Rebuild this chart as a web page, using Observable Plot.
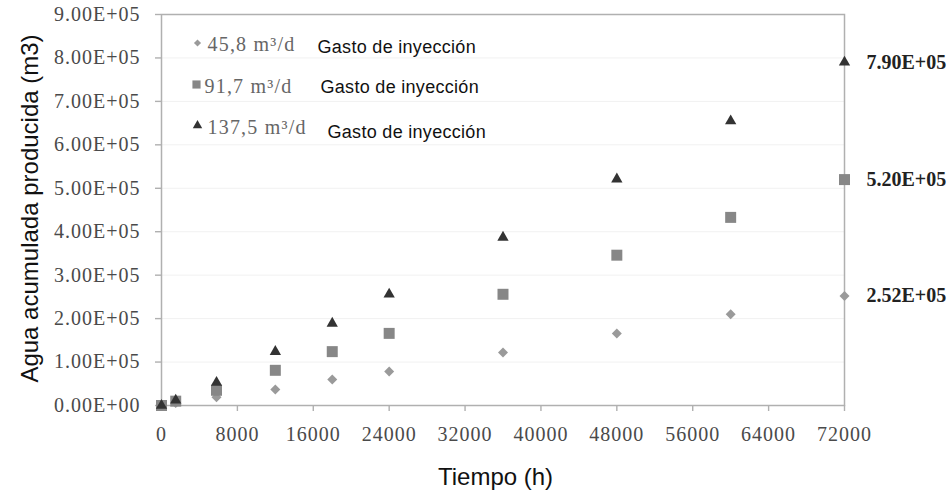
<!DOCTYPE html>
<html>
<head>
<meta charset="utf-8">
<script src="https://cdn.jsdelivr.net/npm/d3@7"></script>
<script src="https://cdn.jsdelivr.net/npm/@observablehq/plot@0.6"></script>
<style>
  body { margin: 0; background: #fff; }
  g[aria-label="y-axis tick label"] text,
  g[aria-label="x-axis tick label"] text { letter-spacing: 1px; }
  .legend-serif text { letter-spacing: 1.2px; }
  .legend-sans text { letter-spacing: 0.3px; }
</style>
</head>
<body>
<div id="chart"></div>
<script>
// ---- data ----
const tiempo     = [0, 1500, 5800, 12000, 18000, 24000, 36000, 48000, 60000, 72000];
const gasto458   = [0, 6000, 19000, 37000, 60000, 78000, 122000, 166000, 210000, 252000];
const gasto917   = [0, 10000, 35000, 81000, 124000, 166000, 256000, 346000, 433000, 520000];
const gasto1375  = [0, 12000, 53000, 124000, 189000, 256000, 387000, 521000, 655000, 790000];
const seriesNames = ["45,8 m³/d", "91,7 m³/d", "137,5 m³/d"];
const legendSuffix = "Gasto de inyección";
const finalLabels = ["2.52E+05", "5.20E+05", "7.90E+05"];
const yTicks = [0, 100000, 200000, 300000, 400000, 500000, 600000, 700000, 800000, 900000];
const xTicks = [0, 8000, 16000, 24000, 32000, 40000, 48000, 56000, 64000, 72000];
const yTitle = "Agua acumulada producida (m3)";
const xTitle = "Tiempo (h)";

// ---- styles ----
const symbols = ["diamond2", "square", "triangle"];
const colors  = ["#9a9a9a", "#878787", "#333333"];
const radii   = [4.5, 6.2, 4.2];
const legendR = [3.2, 4.6, 3.5];

const seriesValues = [gasto458, gasto917, gasto1375];
const rows = [];
seriesValues.forEach((vals, s) => vals.forEach((v, i) => rows.push({s, t: tiempo[i], v})));
const last = seriesValues.map((vals, s) => ({s, t: tiempo[tiempo.length - 1], v: vals[vals.length - 1], label: finalLabels[s]}));

const fmtE = v => v === 0 ? "0.00E+00" : (v / 1e5).toFixed(2) + "E+05";
const sans = "'Liberation Sans', Arial, sans-serif";

const dotMarks = [0, 1, 2].map(s =>
  Plot.dot(rows.filter(d => d.s === s), {
    x: "t", y: "v", symbol: () => symbols[s], r: radii[s], fill: colors[s], stroke: "none"
  })
);

const legendDy = [28.5, 70, 111];
const legendDx = [36, 35, 36];
const legendTextDy = [29.6, 71.6, 112.6];
const legendTextDx = [46, 43, 46];
const gastoDy = [33.2, 73.2, 118.2];
const gastoDx = [156, 159, 166];

const legendMarks = [];
[0, 1, 2].forEach(s => {
  legendMarks.push(Plot.dot([seriesNames[s]], {
    frameAnchor: "top-left", dx: legendDx[s], dy: legendDy[s],
    symbol: () => symbols[s], r: legendR[s], fill: colors[s], stroke: "none"
  }));
  legendMarks.push(Plot.text([seriesNames[s]], {
    frameAnchor: "top-left", dx: legendTextDx[s], dy: legendTextDy[s],
    text: d => d, textAnchor: "start", lineAnchor: "middle", fill: "#666", fontSize: 20,
    className: "legend-serif"
  }));
  legendMarks.push(Plot.text([legendSuffix], {
    frameAnchor: "top-left", dx: gastoDx[s], dy: gastoDy[s],
    text: d => d, textAnchor: "start", lineAnchor: "middle", fill: "#111", fontSize: 18,
    fontFamily: sans, className: "legend-sans"
  }));
});

const chart = Plot.plot({
  width: 948,
  height: 492,
  marginLeft: 161,
  marginRight: 104,
  marginTop: 14,
  marginBottom: 87,
  x: {domain: [0, 72000]},
  y: {domain: [0, 900000]},
  style: {
    fontFamily: "'Liberation Serif', 'Times New Roman', serif",
    fontSize: "20px",
    background: "#fff",
    overflow: "visible"
  },
  marks: [
    Plot.gridY(yTicks.slice(1, -1), {stroke: "#f1f1f1", strokeOpacity: 1}),
    Plot.axisY(yTicks, {
      tickSize: 6, tickPadding: 15, tickFormat: fmtE, label: null,
      stroke: "#b0b0b0", strokeWidth: 1.4, fill: "#4a4a4a", fontSize: 20
    }),
    Plot.axisX(xTicks, {
      tickSize: 6, tickPadding: 15, tickFormat: d3.format("d"), label: null,
      stroke: "#b0b0b0", strokeWidth: 1.4, fill: "#4a4a4a", fontSize: 20
    }),
    Plot.frame({stroke: "#b0b0b0", strokeWidth: 1.5}),
    ...dotMarks,
    Plot.text(last, {
      x: "t", y: "v", text: "label", dx: 22, textAnchor: "start",
      fontWeight: "bold", fontSize: 20, fill: "#222"
    }),
    ...legendMarks,
    Plot.text([yTitle], {
      frameAnchor: "left", dx: -130.7, dy: -1.5, rotate: -90, text: d => d,
      textAnchor: "middle", lineAnchor: "middle",
      fontFamily: sans, fontSize: 24, fill: "#111"
    }),
    Plot.text([xTitle], {
      frameAnchor: "bottom", dx: -7.5, dy: 72.3, text: d => d,
      textAnchor: "middle", lineAnchor: "middle",
      fontFamily: sans, fontSize: 24, fill: "#111"
    })
  ]
});

document.getElementById("chart").appendChild(chart);
</script>
</body>
</html>
